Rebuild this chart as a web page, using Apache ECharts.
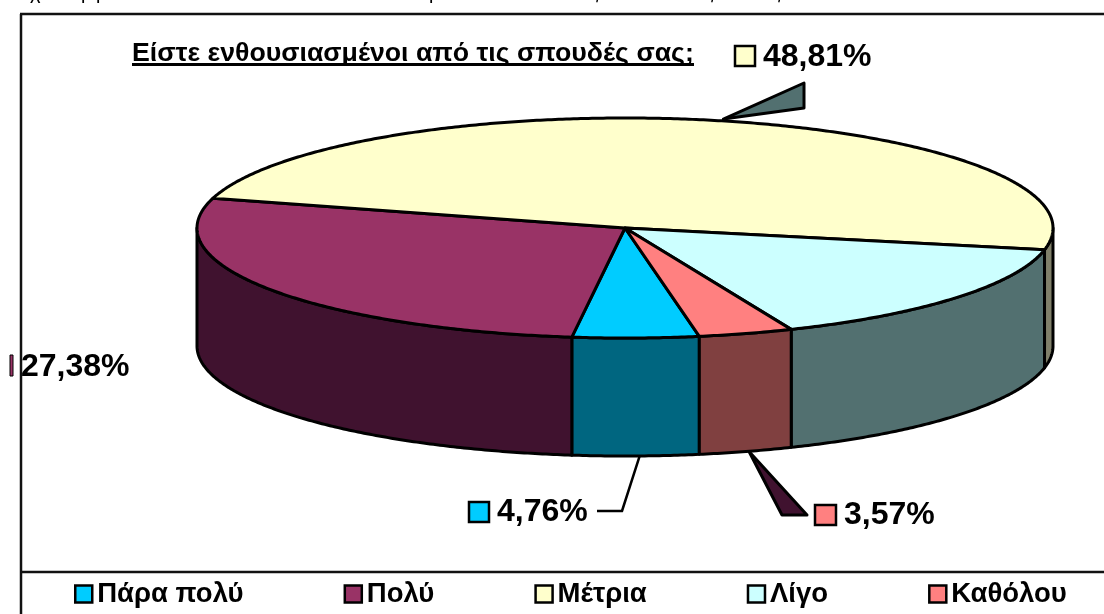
<!DOCTYPE html>
<html>
<head>
<meta charset="utf-8">
<title>Είστε ενθουσιασμένοι από τις σπουδές σας;</title>
<style>
  html, body { margin: 0; padding: 0; background: #fff; }
  #chart { width: 1104px; height: 614px; }
</style>
</head>
<body>
<div id="chart"></div>
<script src="https://cdn.jsdelivr.net/npm/echarts@6/dist/echarts.min.js"></script>
<script>
// data (Λίγο is not labelled, it is what remains of 100)
const categories = ["Πάρα πολύ", "Πολύ", "Μέτρια", "Λίγο", "Καθόλου"];
const percents = [4.76, 27.38, 48.81, 15.48, 3.57];
const titleText = "Είστε ενθουσιασμένοι από τις σπουδές σας;";
// the line of text above the chart is cut off, only these tails are left
const cutGlyphs = ["χ", "ρ", "ρ", "ρ", "ς", "ς", "ς"];
const cutGlyphX = [30, 81, 96, 429, 589, 704, 771];

// colours
const faceColors = ["#00CCFF", "#993366", "#FFFFCC", "#CCFFFF", "#FF8080"];
const sideColors = ["#006680", "#40122F", "#80806A", "#527070", "#804040"];

// the tilted disc
const cx = 625, cy = 228, rx = 428, ry = 110, depth = 118;
const startAngle = 170; // clockwise from the top
const total = percents.reduce((a, b) => a + b, 0);

function rim(deg, drop) {
  const r = (deg * Math.PI) / 180;
  return [cx + rx * Math.sin(r), cy - ry * Math.cos(r) + (drop || 0)];
}

function arc(from, to, drop) {
  const pts = [];
  const n = Math.max(2, Math.ceil(Math.abs(to - from) * 2));
  for (let i = 0; i <= n; i++) pts.push(rim(from + ((to - from) * i) / n, drop));
  return pts;
}

function sliceAngles(idx) {
  let a = startAngle;
  for (let i = 0; i < idx; i++) a += (percents[i] / total) * 360;
  return [a, a + (percents[idx] / total) * 360];
}

function percentText(v) {
  return v.toFixed(2).replace(".", ",") + "%";
}

const line = { stroke: "#000", lineWidth: 3, lineJoin: "round" };

function labelParts(idx, keyX, keyY, keyW, keyH, textX, textY) {
  return [
    {
      type: "rect",
      shape: { x: keyX, y: keyY, width: keyW, height: keyH },
      style: { fill: faceColors[idx], stroke: "#000", lineWidth: keyW < 5 ? 1 : 2.5 },
    },
    {
      type: "text",
      style: {
        text: percentText(percents[idx]),
        x: textX,
        y: textY,
        fill: "#000",
        font: 'bold 32px "Liberation Sans"',
        verticalAlign: "middle",
      },
    },
  ];
}

// callouts around the disc, each starts on the rim at the middle of its slice
function callout(idx) {
  const [a, b] = sliceAngles(idx);
  const mid = (a + b) / 2;
  if (idx === 0) {
    const p = rim(mid, depth);
    return [
      { type: "polyline", shape: { points: [[p[0] + 4, p[1]], [622, 511], [597, 511]] }, style: { ...line, lineWidth: 2.5, fill: null } },
      ...labelParts(idx, 469, 502, 20, 20, 497, 512),
    ];
  }
  if (idx === 1) {
    return labelParts(idx, 10, 355, 3, 21, 21, 367);
  }
  if (idx === 2) {
    const p = rim(mid % 360);
    return [
      { type: "polygon", shape: { points: [[p[0] - 2, p[1] - 2], [804, 83], [804, 108]] }, style: { ...line, fill: sideColors[3] } },
      ...labelParts(idx, 735, 46, 20, 20, 763, 57),
    ];
  }
  if (idx === 4) {
    const p = rim(mid, depth);
    return [
      { type: "polygon", shape: { points: [[p[0] + 3, p[1]], [782, 515], [807, 515]] }, style: { ...line, fill: sideColors[1] } },
      ...labelParts(idx, 815, 505, 21, 20, 844, 515),
    ];
  }
  return [];
}

function renderSlice(idx) {
  const [a, b] = sliceAngles(idx);
  const children = [];
  // wall, only the front half of the disc shows one
  for (const shift of [0, 360]) {
    const from = Math.max(a, 90 + shift);
    const to = Math.min(b, 270 + shift);
    if (to > from) {
      children.push({
        type: "polygon",
        shape: { points: arc(from, to, 0).concat(arc(to, from, depth)) },
        style: { ...line, fill: sideColors[idx] },
      });
    }
  }
  // top face
  children.push({
    type: "polygon",
    shape: { points: [[cx, cy]].concat(arc(a, b, 0)) },
    style: { ...line, fill: faceColors[idx] },
  });
  return { type: "group", children: children.concat(callout(idx)) };
}

const seriesList = categories.map((name, idx) => ({
  type: "custom",
  name: name,
  coordinateSystem: "none",
  silent: true,
  itemStyle: { color: faceColors[idx] },
  data: [[percents[idx]]],
  renderItem: () => renderSlice(idx),
}));

const frameLine = { stroke: "#111", lineWidth: 2.5 };

const myChart = echarts.init(document.getElementById("chart"));
myChart.setOption({
  animation: false,
  backgroundColor: "#fff",
  textStyle: { fontFamily: "Liberation Sans" },
  title: {
    text: titleText,
    left: 132,
    top: 40,
    padding: 0,
    textStyle: { color: "#000", fontSize: 26.7, fontWeight: "bold", fontFamily: "Liberation Sans" },
  },
  legend: {
    left: 74,
    top: 580,
    padding: 0,
    icon: "rect",
    itemWidth: 17,
    itemHeight: 17,
    itemGap: 100,
    selectedMode: false,
    itemStyle: { borderColor: "#000", borderWidth: 2.5 },
    textStyle: { color: "#000", fontSize: 27.5, fontWeight: "bold", fontFamily: "Liberation Sans" },
    data: categories,
  },
  // frame of the chart area, title underline, cut off text
  graphic: [
    { type: "line", shape: { x1: 21, y1: 14, x2: 21, y2: 614 }, style: frameLine },
    { type: "line", shape: { x1: 20, y1: 14, x2: 1104, y2: 14 }, style: frameLine },
    { type: "line", shape: { x1: 20, y1: 572, x2: 1104, y2: 572 }, style: frameLine },
    { type: "line", shape: { x1: 132, y1: 64.5, x2: 694, y2: 64.5 }, style: { stroke: "#000", lineWidth: 3 } },
    ...cutGlyphs.map((g, i) => ({
      type: "text",
      x: cutGlyphX[i],
      y: 3,
      style: { text: g, fill: "#000", font: '20px "Liberation Sans"', verticalAlign: "bottom" },
    })),
  ],
  series: seriesList,
});
</script>
</body>
</html>
